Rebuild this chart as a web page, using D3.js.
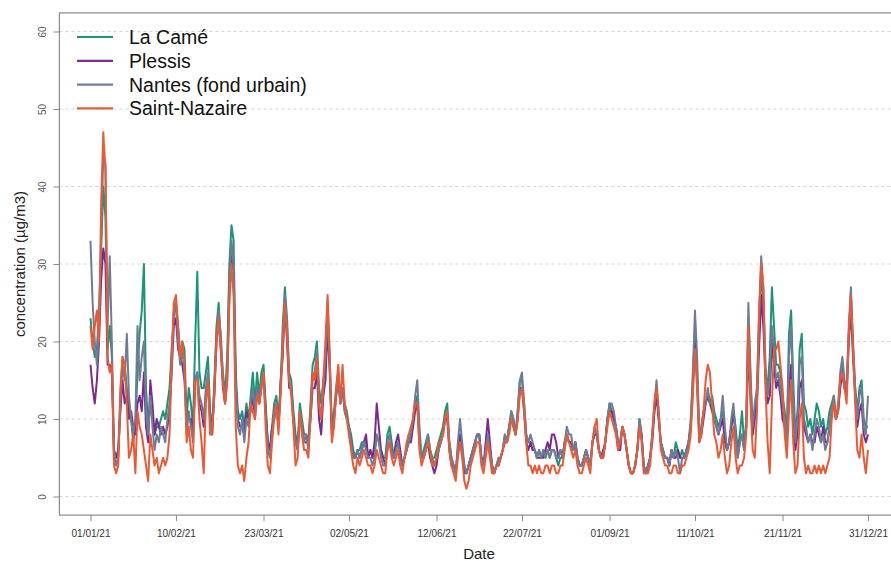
<!DOCTYPE html>
<html>
<head>
<meta charset="utf-8">
<script src="https://cdn.jsdelivr.net/npm/d3@7"></script>
<style>
  body { margin: 0; background: #fff; }
  svg { display: block; font-family: "Liberation Sans", Arial, Helvetica, sans-serif; }
</style>
</head>
<body>
<svg id="chart" width="891" height="561"></svg>
<script>
// Daily PM concentrations (µg/m3), 1 Jan 2021 to 31 Dec 2021
const firstDay = "2021-01-01";

const laCame = [
  23,20,18,19,24,32,40,36,19,22, 18,5,5,6,13,18,17,14,11,10,
  7,9,16,21,24,30,14,9,12,10, 8,9,9,10,11,10,12,14,19,23,
  25,22,18,20,19,10,14,12,9,20, 29,16,14,14,16,18,11,9,15,22,
  25,20,16,13,18,30,35,33,16,11, 10,11,9,12,10,13,16,12,16,13,
  16,17,12,7,6,9,12,13,10,14, 22,27,23,16,15,11,8,7,12,10,
  8,8,7,12,17,18,20,14,12,15, 17,25,18,9,11,14,16,13,14,12,
  11,9,8,6,5,6,6,7,7,7, 5,6,5,6,8,7,6,5,5,8,
  9,7,5,6,7,5,4,5,6,8, 8,10,12,13,8,5,6,7,8,6,
  5,5,6,7,8,9,11,12,7,5, 4,3,6,8,6,4,3,4,5,6,
  7,8,8,5,4,6,8,6,4,3, 4,4,5,6,8,7,9,11,10,8,
  11,15,15,12,8,7,7,6,6,5, 6,5,6,5,6,5,6,6,5,4,
  5,5,7,8,7,7,6,7,5,4, 4,5,6,5,4,7,8,8,6,5,
  5,7,10,12,11,10,9,7,7,9, 8,6,4,3,3,4,6,10,8,4,
  3,4,5,8,11,14,10,7,6,5, 5,4,6,5,7,6,5,6,5,6,
  7,9,15,22,16,8,9,11,12,13, 12,13,11,10,9,10,11,8,6,7,
  9,11,9,6,8,11,7,9,23,15, 8,11,13,22,29,25,16,14,18,27,
  22,17,17,16,13,11,8,21,24,15, 8,11,19,21,12,11,9,10,8,10,
  12,11,9,10,8,9,11,12,13,10, 11,15,17,14,14,21,26,19,14,11,
  14,15,10,9,9
];

const plessis = [
  17,14,12,15,20,28,32,30,17,17, 16,6,5,6,11,15,12,13,10,11,
  9,8,12,13,11,16,9,7,15,12, 8,10,9,8,9,8,9,11,16,22,
  23,19,18,17,15,10,10,10,8,15, 16,12,11,9,13,15,10,9,13,20,
  23,19,14,12,15,26,32,28,14,10, 9,9,8,11,10,11,13,10,14,12,
  14,16,11,7,6,9,10,12,9,15, 18,25,20,14,14,10,7,6,10,9,
  7,7,7,10,14,14,16,10,8,13, 15,22,16,8,10,13,15,12,14,11,
  10,9,7,5,5,6,5,6,7,8, 5,6,5,7,12,9,6,5,4,6,
  7,6,5,7,8,6,4,5,6,7, 7,9,11,12,7,5,5,6,7,5,
  4,3,4,6,7,8,10,10,6,4, 4,3,6,8,6,3,3,4,5,6,
  7,8,8,5,4,7,10,7,4,3, 4,4,5,6,7,7,9,10,9,8,
  10,14,14,11,7,6,7,6,6,5, 5,5,5,6,7,6,8,8,7,5,
  6,5,7,8,7,7,6,7,5,4, 4,5,6,5,4,7,8,8,6,5,
  6,7,10,11,11,10,9,6,6,9, 8,6,4,3,3,4,6,9,8,4,
  3,4,5,7,11,13,10,7,6,5, 5,4,6,5,5,6,5,5,5,6,
  7,9,14,20,15,7,8,10,12,13, 12,11,10,9,8,9,10,7,6,7,
  9,11,8,5,7,8,6,9,19,13, 8,10,12,19,26,22,15,12,13,20,
  17,14,15,13,10,9,7,14,17,10, 6,8,14,15,9,8,7,8,7,7,
  9,8,7,9,7,7,9,11,12,10, 11,14,16,14,13,20,24,18,13,9,
  11,12,8,7,8
];

const nantes = [
  33,25,20,17,22,34,44,43,22,31, 20,6,4,5,12,17,15,21,13,10,
  8,10,22,15,18,20,11,8,13,9, 6,8,7,9,8,7,10,12,18,24,
  25,20,17,19,16,8,11,9,7,15, 16,13,12,10,14,16,10,8,14,21,
  24,21,15,12,16,28,33,30,15,9, 8,10,7,10,9,12,14,11,14,12,
  15,16,11,6,5,8,11,12,9,14, 20,26,22,15,14,10,7,6,11,9,
  7,8,6,10,15,16,19,12,10,14, 18,24,17,8,10,13,15,12,14,11,
  10,9,7,5,5,6,5,6,7,6, 5,5,4,5,8,7,5,4,4,7,
  8,6,5,6,7,5,4,5,6,7, 8,10,13,15,9,5,5,6,8,6,
  5,4,5,6,7,8,10,11,7,5, 4,3,7,10,7,4,3,4,5,6,
  7,8,8,5,4,6,8,6,4,3, 4,5,5,6,8,7,9,11,10,8,
  11,15,16,12,8,7,8,7,6,5, 6,5,6,5,6,5,6,6,5,5,
  6,5,7,9,8,8,6,7,5,4, 4,5,6,5,4,7,9,8,6,5,
  5,7,10,12,12,11,9,7,7,9, 8,6,4,3,3,4,6,10,8,4,
  3,4,5,8,12,15,11,7,6,5, 5,4,6,5,6,5,3,5,5,6,
  7,10,16,24,18,8,9,11,12,14, 12,12,10,9,8,10,13,9,6,7,
  10,12,8,5,7,8,6,10,25,16, 9,12,14,24,31,27,17,13,15,22,
  19,15,16,14,12,10,7,18,22,13, 7,10,17,18,10,9,7,8,6,8,
  10,9,7,8,6,7,9,11,13,10, 11,16,18,15,14,22,27,20,14,10,
  13,14,9,8,13
];

const saintNazaire = [
  22,19,22,24,20,38,47,42,18,16, 17,4,3,4,14,18,17,12,5,6,
  8,3,11,9,8,6,4,2,8,6, 4,5,3,4,5,4,5,8,17,25,
  26,22,18,20,17,7,9,6,5,15, 15,10,7,3,12,15,8,8,14,20,
  23,19,15,12,15,25,30,26,9,4, 3,4,2,5,7,12,11,10,13,12,
  14,16,9,4,3,7,10,12,8,13, 19,25,21,15,13,9,4,5,11,8,
  6,6,5,11,16,15,18,12,10,15, 20,26,18,7,9,14,17,12,17,12,
  10,8,6,4,3,5,4,5,6,5, 4,4,3,4,6,5,4,3,3,6,
  7,5,4,5,6,4,3,5,7,8, 9,10,12,12,6,4,5,6,7,6,
  4,4,5,7,7,8,10,11,6,4, 3,2,5,7,5,2,1,2,4,5,
  6,7,7,4,3,5,7,5,3,3, 4,4,5,6,7,7,8,10,9,8,
  10,13,14,11,7,4,4,3,4,3, 4,3,3,4,4,3,4,4,3,3,
  4,4,6,8,7,6,5,6,4,3, 3,4,5,4,3,7,9,10,6,5,
  5,7,9,11,10,9,8,6,7,9, 8,6,4,3,3,4,6,9,7,3,
  3,3,4,8,12,14,11,6,5,4, 4,3,3,4,4,3,3,4,4,5,
  6,8,13,19,14,7,8,11,15,17, 16,12,8,7,5,6,8,5,3,4,
  7,9,5,3,4,4,5,8,22,12, 6,5,11,23,30,27,14,7,3,12,
  19,19,20,17,14,8,5,11,15,7, 3,4,10,12,5,3,4,3,3,4,
  3,4,3,4,3,4,5,10,12,10, 12,15,16,14,12,21,26,19,12,6,
  5,8,5,3,6
];

const seriesNames = ["La Camé", "Plessis", "Nantes (fond urbain)", "Saint-Nazaire"];
const seriesValues = [laCame, plessis, nantes, saintNazaire];
const seriesColors = ["#1b9577", "#7b2a8e", "#6e7c96", "#ea5a34"];

const yTicks = [0, 10, 20, 30, 40, 50, 60];
const xTickDates = ["2021-01-01", "2021-02-10", "2021-03-23", "2021-05-02", "2021-06-12",
                    "2021-07-22", "2021-09-01", "2021-10-11", "2021-11-21", "2021-12-31"];

// ---- layout ----
const svg = d3.select("#chart");
const parse = d3.utcParse("%Y-%m-%d");
const fmt = d3.utcFormat("%d/%m/%y");
const day0 = parse(firstDay);
const dayN = d3.utcDay.offset(day0, laCame.length - 1);

const x = d3.scaleUtc().domain([day0, dayN]).range([90.5, 868]);
const y = d3.scaleLinear().domain([0, 60]).range([496.5, 31.5]);

// plotting region extends 4% beyond the data range on each side
const spanX = 868 - 90.5, spanY = 496.5 - 31.5;
const box = {
  left: 90.5 - spanX * 0.04,
  right: 868 + spanX * 0.04,
  top: 31.5 - spanY * 0.04,
  bottom: 496.5 + spanY * 0.04
};

svg.append("defs").append("clipPath").attr("id", "plotclip")
  .append("rect")
  .attr("x", box.left).attr("y", box.top)
  .attr("width", box.right - box.left).attr("height", box.bottom - box.top);

// horizontal dashed grid
svg.append("g")
  .selectAll("line")
  .data(yTicks)
  .join("line")
  .attr("x1", box.left).attr("x2", box.right)
  .attr("y1", d => y(d)).attr("y2", d => y(d))
  .attr("stroke", "#d4d4d4")
  .attr("stroke-width", 1)
  .attr("stroke-dasharray", "3,3");

// series lines
const line = d3.line()
  .x((d, i) => x(d3.utcDay.offset(day0, i)))
  .y(d => y(d));

svg.append("g")
  .attr("clip-path", "url(#plotclip)")
  .selectAll("path")
  .data(seriesValues)
  .join("path")
  .attr("d", d => line(d))
  .attr("fill", "none")
  .attr("stroke", (d, i) => seriesColors[i])
  .attr("stroke-width", 2)
  .attr("stroke-linejoin", "round");

// frame
svg.append("rect")
  .attr("x", box.left).attr("y", box.top)
  .attr("width", box.right - box.left).attr("height", box.bottom - box.top)
  .attr("fill", "none")
  .attr("stroke", "#8a8a8a")
  .attr("stroke-width", 1.2);

// y axis
const yAxis = svg.append("g")
  .attr("transform", `translate(${box.left},0)`)
  .call(d3.axisLeft(y).tickValues(yTicks).tickSize(6).tickSizeOuter(0));
yAxis.select(".domain").remove();
yAxis.selectAll(".tick line").attr("stroke", "#8a8a8a");
yAxis.selectAll(".tick text")
  .attr("transform", "rotate(-90)")
  .attr("x", 0).attr("y", -13).attr("dy", 0)
  .attr("text-anchor", "middle")
  .attr("fill", "#555")
  .style("font-size", "10px");

// x axis
const xAxis = svg.append("g")
  .attr("transform", `translate(0,${box.bottom})`)
  .call(d3.axisBottom(x)
    .tickValues(xTickDates.map(parse))
    .tickFormat(fmt)
    .tickSize(6).tickSizeOuter(0));
xAxis.select(".domain").remove();
xAxis.selectAll(".tick line").attr("stroke", "#8a8a8a");
xAxis.selectAll(".tick text")
  .attr("y", 15).attr("dy", "0.71em")
  .attr("fill", "#333")
  .style("font-size", "10px");

// axis titles
svg.append("text")
  .attr("x", 479).attr("y", 559)
  .attr("text-anchor", "middle")
  .style("font-size", "15px")
  .attr("fill", "#222")
  .text("Date");

svg.append("text")
  .attr("transform", "translate(25,264) rotate(-90)")
  .attr("text-anchor", "middle")
  .style("font-size", "15px")
  .attr("fill", "#222")
  .text("concentration (µg/m3)");

// legend
const legend = svg.append("g")
  .selectAll("g")
  .data(seriesNames)
  .join("g")
  .attr("transform", (d, i) => `translate(77,${37 + i * 23.8})`);
legend.append("line")
  .attr("x1", 0).attr("x2", 36)
  .attr("stroke", (d, i) => seriesColors[i])
  .attr("stroke-width", 2.2);
legend.append("text")
  .attr("x", 52).attr("y", 0).attr("dy", "0.36em")
  .style("font-size", "19.5px")
  .attr("fill", "#111")
  .text(d => d);
</script>
</body>
</html>
